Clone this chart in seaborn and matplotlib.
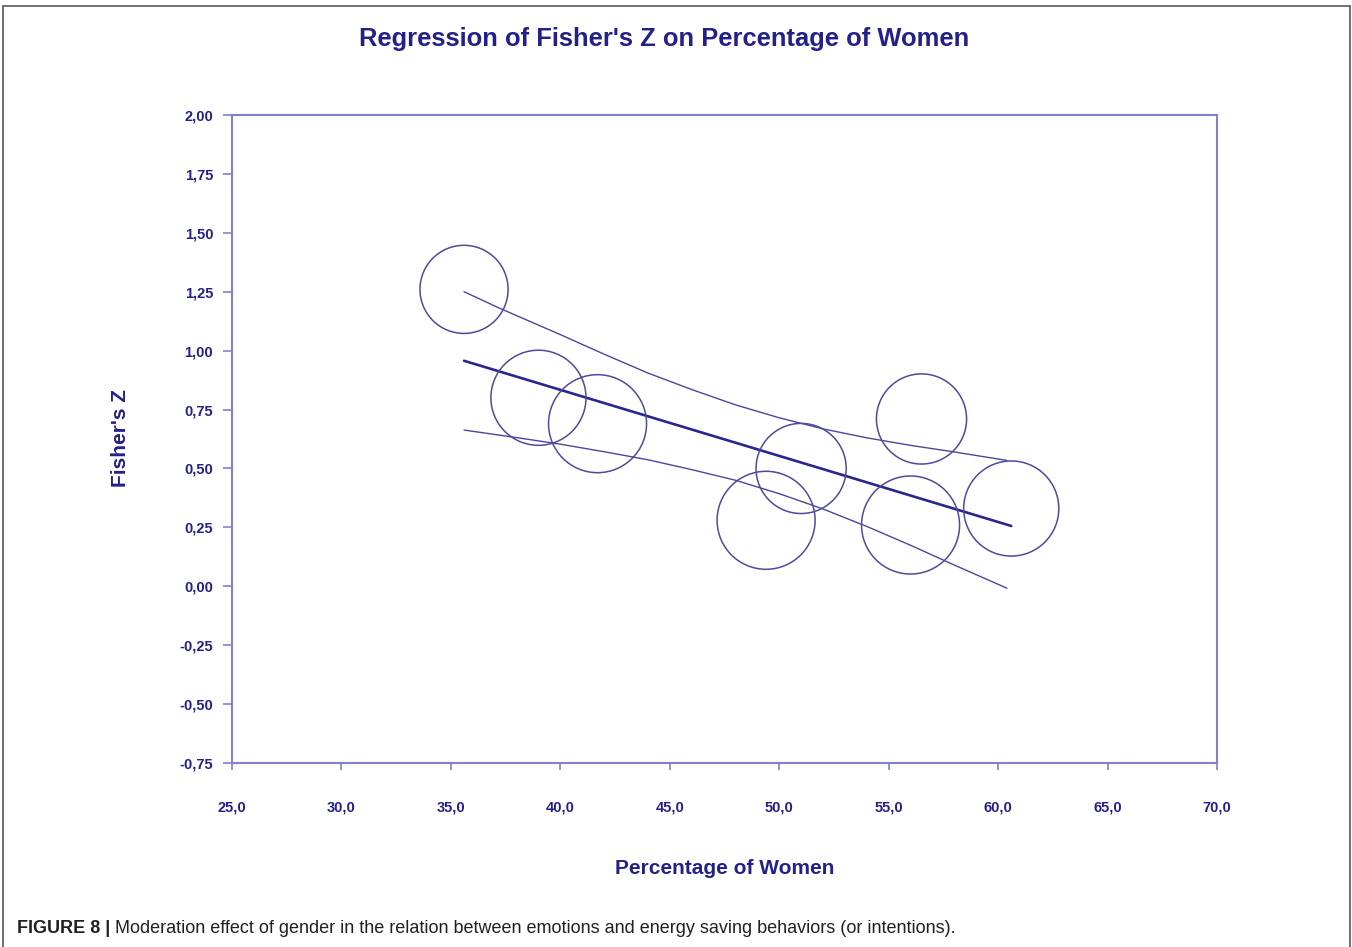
import matplotlib
matplotlib.use("Agg")
import matplotlib.pyplot as plt
import seaborn as sns
from matplotlib.lines import Line2D

# datos
pct_women = [35.6, 39.0, 41.7, 49.4, 51.0, 56.5, 56.0, 60.6]
fisher_z = [1.26, 0.80, 0.69, 0.28, 0.50, 0.71, 0.26, 0.33]
study_weight = [19.4, 22.6, 24.0, 24.0, 20.3, 20.3, 24.0, 22.6]

reg_x = [35.6, 60.6]
reg_y = [0.957, 0.256]

upper_x = [35.6, 37.2, 40.0, 42.0, 44.0, 46.0, 48.0, 50.0, 52.0, 54.0, 56.0, 58.0, 60.4]
upper_y = [1.250, 1.181, 1.068, 0.985, 0.905, 0.835, 0.770, 0.715, 0.668, 0.630, 0.598, 0.570, 0.534]
lower_x = [35.6, 38.0, 40.0, 42.0, 44.0, 46.0, 48.0, 50.0, 52.0, 54.0, 56.0, 58.0, 60.4]
lower_y = [0.663, 0.631, 0.603, 0.571, 0.537, 0.495, 0.450, 0.393, 0.328, 0.254, 0.174, 0.090, -0.008]

x_ticks = [25, 30, 35, 40, 45, 50, 55, 60, 65, 70]
x_labels = ["25,0", "30,0", "35,0", "40,0", "45,0", "50,0", "55,0", "60,0", "65,0", "70,0"]
y_ticks = [-0.75, -0.5, -0.25, 0, 0.25, 0.5, 0.75, 1.0, 1.25, 1.5, 1.75, 2.0]
y_labels = ["-0,75", "-0,50", "-0,25", "0,00", "0,25", "0,50", "0,75", "1,00",
            "1,25", "1,50", "1,75", "2,00"]

sns.set_theme(style="white")
plt.rcParams["font.family"] = ["Liberation Sans", "DejaVu Sans"]

navy = "#24208a"
spine_col = "#8480d0"
circle_col = "#4e4a9c"

fig = plt.figure(figsize=(13.52, 9.47), dpi=100)
ax = fig.add_axes([232 / 1352, 1 - 763 / 947, 985 / 1352, 648 / 947])

# circulos (tamano segun peso del estudio)
k = 207.5
sns.scatterplot(x=pct_women, y=fisher_z, size=study_weight,
                sizes=(min(study_weight) * k, max(study_weight) * k),
                size_norm=(min(study_weight), max(study_weight)),
                legend=False, ax=ax, zorder=3)
coll = ax.collections[-1]
coll.set_facecolor("none")
coll.set_edgecolor(circle_col)
coll.set_linewidth(1.1)

# recta de regresion e intervalos
sns.lineplot(x=reg_x, y=reg_y, color="#2a268e", linewidth=1.9, estimator=None, ax=ax)
sns.lineplot(x=upper_x, y=upper_y, color="#4a469e", linewidth=1.0, estimator=None, ax=ax)
sns.lineplot(x=lower_x, y=lower_y, color="#4a469e", linewidth=1.0, estimator=None, ax=ax)

ax.set_xlim(25, 70)
ax.set_ylim(-0.75, 2.0)
ax.set_xticks(x_ticks)
ax.set_xticklabels(x_labels)
ax.set_yticks(y_ticks)
ax.set_yticklabels(y_labels)
for s in ax.spines.values():
    s.set_color(spine_col)
    s.set_linewidth(1.5)
ax.tick_params(axis="x", direction="out", length=5, width=1.2, color=spine_col,
               pad=22, labelsize=10.5, labelcolor=navy, bottom=True)
ax.tick_params(axis="y", direction="out", length=6.5, width=1.2, color=spine_col,
               pad=7, labelsize=10.5, labelcolor=navy, left=True)
for lab in ax.get_xticklabels() + ax.get_yticklabels():
    lab.set_fontweight("bold")

fig.text(725 / 1352, 1 - 868 / 947, "Percentage of Women", ha="center", va="center",
         fontsize=15, fontweight="bold", color=navy)
fig.text(121 / 1352, 1 - 438 / 947, "Fisher's Z", ha="center", va="center",
         rotation=90, fontsize=15, fontweight="bold", color=navy)
fig.text(664 / 1352, 1 - 39 / 947, "Regression of Fisher's Z on Percentage of Women",
         ha="center", va="center", fontsize=18.4, fontweight="bold", color=navy)

# pie de figura
t1 = fig.text(17 / 1352, 1 - 928 / 947, "FIGURE 8 |", ha="left", va="center",
              fontsize=13, fontweight="bold", color="#231f20")
fig.canvas.draw()
bb = t1.get_window_extent(fig.canvas.get_renderer())
fig.text((bb.x1 + 5) / 1352, 1 - 928 / 947,
         "Moderation effect of gender in the relation between emotions and energy saving behaviors (or intentions).",
         ha="left", va="center", fontsize=13, color="#231f20")

# marco exterior
for xs, ys in [([3 / 1352, 1350 / 1352], [1 - 6 / 947, 1 - 6 / 947]),
               ([3 / 1352, 3 / 1352], [0, 1 - 6 / 947]),
               ([1350 / 1352, 1350 / 1352], [0, 1 - 6 / 947])]:
    fig.add_artist(Line2D(xs, ys, color="#666666", linewidth=1.3))

fig.savefig("out.png", dpi=100)
